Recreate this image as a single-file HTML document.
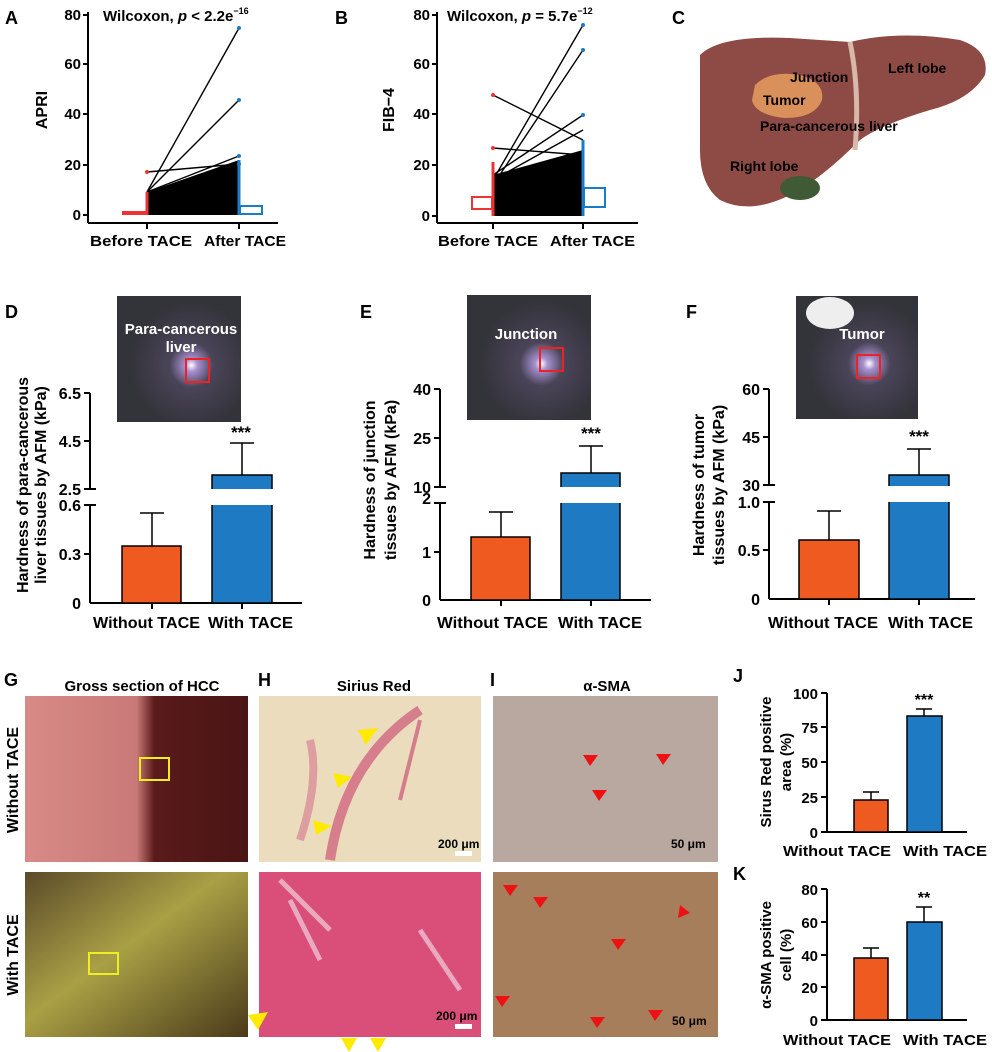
<!DOCTYPE html>
<html><head><meta charset="utf-8"><style>
body{margin:0;background:#fff}
svg{display:block;font-family:"Liberation Sans",Arial,sans-serif}
</style></head><body>
<svg width="992" height="1052" viewBox="0 0 992 1052" xmlns="http://www.w3.org/2000/svg">
<defs>
<linearGradient id="gw" x1="0" y1="0" x2="1" y2="0"><stop offset="0" stop-color="#d88a86"/><stop offset="0.5" stop-color="#c97a78"/><stop offset="0.58" stop-color="#5a1a1a"/><stop offset="1" stop-color="#4a1515"/></linearGradient>
<linearGradient id="gt" x1="0" y1="0" x2="1" y2="1"><stop offset="0" stop-color="#5b4a2a"/><stop offset="0.45" stop-color="#a9a045"/><stop offset="1" stop-color="#4a3a1a"/></linearGradient>
<radialGradient id="ph" cx="0.6" cy="0.55"><stop offset="0" stop-color="#fff"/><stop offset="0.1" stop-color="#a890d0"/><stop offset="0.35" stop-color="#4a4458"/><stop offset="1" stop-color="#33333a"/></radialGradient>
</defs>
<g font-size="18" font-weight="bold">
<text x="5" y="24">A</text><text x="335" y="24">B</text><text x="672" y="24">C</text>
<text x="5" y="318">D</text><text x="360" y="318">E</text><text x="686" y="318">F</text>
<text x="4" y="686">G</text><text x="258" y="686">H</text><text x="490" y="686">I</text>
<text x="733" y="682">J</text><text x="733" y="880">K</text>
</g>
<!-- Panel A -->
<g font-size="15" font-weight="bold">
<line x1="88" y1="12" x2="88" y2="223" stroke="#000" stroke-width="2"/>
<line x1="88" y1="223" x2="278" y2="223" stroke="#000" stroke-width="2"/>
<g text-anchor="end"><text x="81" y="20">80</text><text x="81" y="69">60</text><text x="81" y="119">40</text><text x="81" y="170">20</text><text x="81" y="220">0</text></g>
<g stroke="#000" stroke-width="2"><line x1="83" y1="15" x2="88" y2="15"/><line x1="83" y1="64" x2="88" y2="64"/><line x1="83" y1="114" x2="88" y2="114"/><line x1="83" y1="165" x2="88" y2="165"/><line x1="83" y1="215" x2="88" y2="215"/><line x1="147" y1="223" x2="147" y2="229"/><line x1="239" y1="223" x2="239" y2="229"/></g>
<text x="47" y="110" transform="rotate(-90 47 110)" text-anchor="middle" font-size="16">APRI</text>
<text x="103" y="21" font-size="15">Wilcoxon, <tspan font-style="italic">p</tspan> &lt; 2.2e<tspan font-size="9" dy="-7">−16</tspan></text>
<text x="90" y="246" font-size="15" textLength="102" lengthAdjust="spacingAndGlyphs">Before TACE</text><text x="204" y="246" font-size="15" textLength="82" lengthAdjust="spacingAndGlyphs">After TACE</text>
<g stroke="#000" stroke-width="1.4">
<line x1="147" y1="192" x2="239" y2="28"/><line x1="147" y1="192" x2="239" y2="100"/><line x1="147" y1="172" x2="239" y2="164"/>
<line x1="147" y1="192" x2="239" y2="156"/>
</g>
<polygon points="147,192 239,160 239,215 147,215" fill="#000"/>
<rect x="122" y="211" width="25" height="4" fill="#e33"/><line x1="147" y1="192" x2="147" y2="215" stroke="#e33" stroke-width="3"/><circle cx="147" cy="172" r="2" fill="#e33"/>
<line x1="239" y1="160" x2="239" y2="215" stroke="#1a7bc8" stroke-width="3"/><g fill="#1a7bc8"><circle cx="239" cy="28" r="2"/><circle cx="239" cy="100" r="2"/><circle cx="239" cy="156" r="2"/><circle cx="239" cy="164" r="2"/></g>
<rect x="240" y="206" width="22" height="8" fill="none" stroke="#1a7bc8" stroke-width="2"/>
</g>
<!-- Panel B -->
<g font-size="15" font-weight="bold">
<line x1="437" y1="12" x2="437" y2="223" stroke="#000" stroke-width="2"/>
<line x1="437" y1="223" x2="638" y2="223" stroke="#000" stroke-width="2"/>
<g text-anchor="end"><text x="430" y="20">80</text><text x="430" y="69">60</text><text x="430" y="119">40</text><text x="430" y="170">20</text><text x="430" y="221">0</text></g>
<g stroke="#000" stroke-width="2"><line x1="432" y1="15" x2="437" y2="15"/><line x1="432" y1="64" x2="437" y2="64"/><line x1="432" y1="114" x2="437" y2="114"/><line x1="432" y1="165" x2="437" y2="165"/><line x1="432" y1="216" x2="437" y2="216"/><line x1="493" y1="223" x2="493" y2="229"/><line x1="583" y1="223" x2="583" y2="229"/></g>
<text x="394" y="110" transform="rotate(-90 394 110)" text-anchor="middle" font-size="16">FIB−4</text>
<text x="447" y="21" font-size="15">Wilcoxon, <tspan font-style="italic">p</tspan> = 5.7e<tspan font-size="9" dy="-7">−12</tspan></text>
<text x="438" y="246" font-size="15" textLength="100" lengthAdjust="spacingAndGlyphs">Before TACE</text><text x="550" y="246" font-size="15" textLength="85" lengthAdjust="spacingAndGlyphs">After TACE</text>
<g stroke="#000" stroke-width="1.4">
<line x1="493" y1="95" x2="583" y2="140"/><line x1="493" y1="180" x2="583" y2="25"/><line x1="493" y1="185" x2="583" y2="50"/><line x1="493" y1="148" x2="583" y2="155"/><line x1="493" y1="175" x2="583" y2="115"/><line x1="493" y1="180" x2="583" y2="130"/>
</g>
<polygon points="493,175 583,150 583,216 493,216" fill="#000"/>
<rect x="472" y="197" width="20" height="12" fill="none" stroke="#e33" stroke-width="2"/><line x1="493" y1="162" x2="493" y2="216" stroke="#e33" stroke-width="3"/><circle cx="493" cy="95" r="2" fill="#e33"/><circle cx="493" cy="148" r="2" fill="#e33"/>
<line x1="583" y1="140" x2="583" y2="216" stroke="#1a7bc8" stroke-width="3"/><g fill="#1a7bc8"><circle cx="583" cy="25" r="2"/><circle cx="583" cy="50" r="2"/><circle cx="583" cy="115" r="2"/></g>
<rect x="584" y="188" width="21" height="19" fill="none" stroke="#1a7bc8" stroke-width="2"/>
</g>
<!-- Panel C liver -->
<g>
<path d="M700,55 Q720,35 790,38 L850,42 Q900,30 960,40 Q990,50 985,75 Q970,100 930,110 Q880,125 860,140 Q820,180 790,195 Q750,215 720,200 Q700,185 700,150 Z" fill="#8e4a45"/>
<ellipse cx="800" cy="188" rx="20" ry="12" fill="#3f5a35"/>
<path d="M850,42 Q860,90 855,150" stroke="#d8b8a8" stroke-width="5" fill="none"/>
<path d="M755,85 Q770,70 800,75 Q825,82 822,100 Q815,118 785,118 Q755,115 752,100 Z" fill="#d9905a"/>
<g font-size="14" font-weight="bold"><text x="790" y="82">Junction</text><text x="888" y="73">Left lobe</text><text x="763" y="105">Tumor</text><text x="760" y="131">Para-cancerous liver</text><text x="730" y="171">Right lobe</text></g>
</g>
<!-- Panel D -->
<g font-size="16" font-weight="bold">
<rect x="117" y="296" width="124" height="126" fill="url(#ph)"/><text x="181" y="334" fill="#fff" text-anchor="middle" font-size="15">Para-cancerous</text><text x="181" y="352" fill="#fff" text-anchor="middle" font-size="15">liver</text>
<rect x="186" y="359" width="23" height="23" fill="none" stroke="#e22" stroke-width="2"/>
<line x1="90" y1="393" x2="90" y2="489" stroke="#000" stroke-width="2"/><line x1="90" y1="505" x2="90" y2="603" stroke="#000" stroke-width="2"/>
<line x1="90" y1="603" x2="302" y2="603" stroke="#000" stroke-width="2"/>
<g stroke="#000" stroke-width="2"><line x1="84" y1="393" x2="90" y2="393"/><line x1="84" y1="441" x2="90" y2="441"/><line x1="84" y1="489" x2="96" y2="489"/><line x1="84" y1="505" x2="96" y2="505"/><line x1="84" y1="554" x2="90" y2="554"/><line x1="152" y1="603" x2="152" y2="609"/><line x1="242" y1="603" x2="242" y2="609"/></g>
<g text-anchor="end"><text x="81" y="399">6.5</text><text x="81" y="447">4.5</text><text x="81" y="495">2.5</text><text x="81" y="511">0.6</text><text x="81" y="560">0.3</text><text x="81" y="609">0</text></g>
<rect x="122" y="546" width="59" height="57" fill="#ee5a1f" stroke="#000" stroke-width="1.5"/><line x1="152" y1="546" x2="152" y2="513" stroke="#000" stroke-width="1.5"/><line x1="140" y1="513" x2="164" y2="513" stroke="#000" stroke-width="1.5"/>
<rect x="212" y="475" width="60" height="128" fill="#1f7ac4" stroke="#000" stroke-width="1.5"/><rect x="211" y="489" width="62" height="16" fill="#fff"/>
<line x1="242" y1="475" x2="242" y2="443" stroke="#000" stroke-width="1.5"/><line x1="230" y1="443" x2="254" y2="443" stroke="#000" stroke-width="1.5"/>
<text x="241" y="438" text-anchor="middle" font-size="17">***</text>
<text x="28" y="485" transform="rotate(-90 28 485)" text-anchor="middle" font-size="16">Hardness of para-cancerous</text>
<text x="46" y="485" transform="rotate(-90 46 485)" text-anchor="middle" font-size="16">liver tissues by AFM (kPa)</text>
<text x="93" y="628" font-size="16" textLength="107" lengthAdjust="spacingAndGlyphs">Without TACE</text><text x="208" y="628" font-size="16" textLength="85" lengthAdjust="spacingAndGlyphs">With TACE</text>
</g>
<!-- Panel E -->
<g font-size="16" font-weight="bold">
<rect x="467" y="295" width="124" height="125" fill="url(#ph)"/><text x="526" y="339" fill="#fff" text-anchor="middle" font-size="15">Junction</text>
<rect x="540" y="348" width="23" height="23" fill="none" stroke="#e22" stroke-width="2"/>
<line x1="440" y1="389" x2="440" y2="487" stroke="#000" stroke-width="2"/><line x1="440" y1="503" x2="440" y2="600" stroke="#000" stroke-width="2"/>
<line x1="440" y1="600" x2="651" y2="600" stroke="#000" stroke-width="2"/>
<g stroke="#000" stroke-width="2"><line x1="434" y1="389" x2="440" y2="389"/><line x1="434" y1="438" x2="440" y2="438"/><line x1="434" y1="487" x2="446" y2="487"/><line x1="434" y1="503" x2="446" y2="503"/><line x1="434" y1="552" x2="440" y2="552"/><line x1="501" y1="600" x2="501" y2="606"/><line x1="591" y1="600" x2="591" y2="606"/></g>
<g text-anchor="end"><text x="431" y="395">40</text><text x="431" y="444">25</text><text x="431" y="493">10</text><text x="431" y="504">2</text><text x="431" y="558">1</text><text x="431" y="606">0</text></g>
<rect x="471" y="537" width="59" height="63" fill="#ee5a1f" stroke="#000" stroke-width="1.5"/><line x1="501" y1="537" x2="501" y2="512" stroke="#000" stroke-width="1.5"/><line x1="489" y1="512" x2="513" y2="512" stroke="#000" stroke-width="1.5"/>
<rect x="561" y="473" width="59" height="127" fill="#1f7ac4" stroke="#000" stroke-width="1.5"/><rect x="560" y="487" width="61" height="16" fill="#fff"/>
<line x1="591" y1="473" x2="591" y2="446" stroke="#000" stroke-width="1.5"/><line x1="579" y1="446" x2="603" y2="446" stroke="#000" stroke-width="1.5"/>
<text x="591" y="439" text-anchor="middle" font-size="17">***</text>
<text x="375" y="480" transform="rotate(-90 375 480)" text-anchor="middle" font-size="16">Hardness of junction</text>
<text x="396" y="480" transform="rotate(-90 396 480)" text-anchor="middle" font-size="16">tissues by AFM (kPa)</text>
<text x="437" y="628" font-size="16" textLength="111" lengthAdjust="spacingAndGlyphs">Without TACE</text><text x="558" y="628" font-size="16" textLength="84" lengthAdjust="spacingAndGlyphs">With TACE</text>
</g>
<!-- Panel F -->
<g font-size="16" font-weight="bold">
<rect x="796" y="296" width="122" height="123" fill="url(#ph)"/><ellipse cx="830" cy="313" rx="24" ry="16" fill="#eee"/><text x="862" y="339" fill="#fff" text-anchor="middle" font-size="15">Tumor</text>
<rect x="857" y="355" width="23" height="23" fill="none" stroke="#e22" stroke-width="2"/>
<line x1="769" y1="389" x2="769" y2="485" stroke="#000" stroke-width="2"/><line x1="769" y1="502" x2="769" y2="599" stroke="#000" stroke-width="2"/>
<line x1="769" y1="599" x2="975" y2="599" stroke="#000" stroke-width="2"/>
<g stroke="#000" stroke-width="2"><line x1="763" y1="389" x2="769" y2="389"/><line x1="763" y1="437" x2="769" y2="437"/><line x1="763" y1="485" x2="775" y2="485"/><line x1="763" y1="502" x2="775" y2="502"/><line x1="763" y1="550" x2="769" y2="550"/><line x1="829" y1="599" x2="829" y2="605"/><line x1="919" y1="599" x2="919" y2="605"/></g>
<g text-anchor="end"><text x="760" y="395">60</text><text x="760" y="443">45</text><text x="760" y="491">30</text><text x="760" y="508">1.0</text><text x="760" y="556">0.5</text><text x="760" y="605">0</text></g>
<rect x="799" y="540" width="60" height="59" fill="#ee5a1f" stroke="#000" stroke-width="1.5"/><line x1="829" y1="540" x2="829" y2="511" stroke="#000" stroke-width="1.5"/><line x1="817" y1="511" x2="841" y2="511" stroke="#000" stroke-width="1.5"/>
<rect x="889" y="475" width="60" height="124" fill="#1f7ac4" stroke="#000" stroke-width="1.5"/><rect x="888" y="486" width="62" height="16" fill="#fff"/>
<line x1="919" y1="475" x2="919" y2="449" stroke="#000" stroke-width="1.5"/><line x1="907" y1="449" x2="931" y2="449" stroke="#000" stroke-width="1.5"/>
<text x="919" y="442" text-anchor="middle" font-size="17">***</text>
<text x="704" y="485" transform="rotate(-90 704 485)" text-anchor="middle" font-size="16">Hardness of tumor</text>
<text x="724" y="485" transform="rotate(-90 724 485)" text-anchor="middle" font-size="16">tissues by AFM (kPa)</text>
<text x="768" y="628" font-size="16" textLength="110" lengthAdjust="spacingAndGlyphs">Without TACE</text><text x="888" y="628" font-size="16" textLength="85" lengthAdjust="spacingAndGlyphs">With TACE</text>
</g>
<!-- G H I photos -->
<g font-size="15" font-weight="bold">
<text x="142" y="691" text-anchor="middle">Gross section of HCC</text><text x="374" y="691" text-anchor="middle">Sirius Red</text><text x="607" y="691" text-anchor="middle">α-SMA</text>
<rect x="25" y="696" width="223" height="166" fill="url(#gw)"/><rect x="25" y="872" width="223" height="165" fill="url(#gt)"/>
<rect x="140" y="758" width="29" height="22" fill="none" stroke="#ee2" stroke-width="2"/><rect x="89" y="953" width="29" height="21" fill="none" stroke="#ee2" stroke-width="2"/>
<text x="18" y="780" transform="rotate(-90 18 780)" text-anchor="middle" font-size="16">Without TACE</text>
<text x="18" y="955" transform="rotate(-90 18 955)" text-anchor="middle" font-size="16">With TACE</text>
<rect x="259" y="696" width="222" height="166" fill="#ebdcbe"/><path d="M330,860 Q345,760 420,710" stroke="#c8406a" stroke-width="10" fill="none" opacity="0.6"/><path d="M300,840 Q320,780 310,740" stroke="#d06080" stroke-width="8" fill="none" opacity="0.5"/><path d="M400,800 L420,720" stroke="#c8406a" stroke-width="4" opacity="0.6"/>
<rect x="259" y="872" width="222" height="165" fill="#d94f7a"/><path d="M280,880 L330,930 M290,900 L320,960 M420,930 L460,990" stroke="#f2d0dc" stroke-width="5" opacity="0.7"/>
<text x="438" y="848" font-size="12">200 μm</text><rect x="455" y="851" width="17" height="5" fill="#fff"/>
<text x="436" y="1020" font-size="12">200 μm</text><rect x="455" y="1024" width="17" height="5" fill="#fff"/>
<rect x="493" y="696" width="225" height="166" fill="#b8a8a0"/><rect x="493" y="872" width="225" height="165" fill="#a77e5c"/>
<text x="671" y="848" font-size="12">50 μm</text><text x="672" y="1025" font-size="12">50 μm</text>
<g fill="#ffea00"><polygon points="358,730 378,728 366,745"/><polygon points="333,773 352,777 338,788"/><polygon points="313,820 332,826 316,835"/><polygon points="248,1015 268,1012 258,1030"/><polygon points="341,1038 357,1038 349,1052"/><polygon points="370,1038 386,1038 378,1052"/></g>
<g fill="#e11"><polygon points="583,755 598,755 590,766"/><polygon points="592,790 607,790 599,801"/><polygon points="656,754 671,754 663,765"/><polygon points="503,885 518,885 510,896"/><polygon points="533,897 548,897 540,908"/><polygon points="680,905 690,913 678,918"/><polygon points="611,939 626,939 618,950"/><polygon points="495,996 510,996 502,1007"/><polygon points="590,1017 605,1017 597,1028"/><polygon points="648,1010 663,1010 655,1021"/></g>
</g>
<!-- J -->
<g font-size="15" font-weight="bold">
<line x1="827" y1="693" x2="827" y2="832" stroke="#000" stroke-width="2"/><line x1="827" y1="832" x2="967" y2="832" stroke="#000" stroke-width="2"/>
<g stroke="#000" stroke-width="2"><line x1="821" y1="693" x2="827" y2="693"/><line x1="821" y1="727" x2="827" y2="727"/><line x1="821" y1="762" x2="827" y2="762"/><line x1="821" y1="797" x2="827" y2="797"/><line x1="821" y1="832" x2="827" y2="832"/></g>
<g text-anchor="end"><text x="818" y="699">100</text><text x="818" y="733">75</text><text x="818" y="768">50</text><text x="818" y="803">25</text><text x="818" y="838">0</text></g>
<rect x="854" y="800" width="34" height="32" fill="#ee5a1f" stroke="#000" stroke-width="1.5"/><line x1="871" y1="800" x2="871" y2="792" stroke="#000" stroke-width="1.5"/><line x1="863" y1="792" x2="879" y2="792" stroke="#000" stroke-width="1.5"/>
<rect x="907" y="716" width="35" height="116" fill="#1f7ac4" stroke="#000" stroke-width="1.5"/><line x1="924" y1="716" x2="924" y2="709" stroke="#000" stroke-width="1.5"/><line x1="916" y1="709" x2="932" y2="709" stroke="#000" stroke-width="1.5"/>
<text x="924" y="705" text-anchor="middle" font-size="16">***</text>
<text x="771" y="762" transform="rotate(-90 771 762)" text-anchor="middle" font-size="15">Sirus Red positive</text><text x="791" y="762" transform="rotate(-90 791 762)" text-anchor="middle" font-size="15">area (%)</text>
<text x="783" y="856" font-size="15" textLength="108" lengthAdjust="spacingAndGlyphs">Without TACE</text><text x="903" y="856" font-size="15" textLength="84" lengthAdjust="spacingAndGlyphs">With TACE</text>
</g>
<!-- K -->
<g font-size="15" font-weight="bold">
<line x1="827" y1="889" x2="827" y2="1020" stroke="#000" stroke-width="2"/><line x1="827" y1="1020" x2="967" y2="1020" stroke="#000" stroke-width="2"/>
<g stroke="#000" stroke-width="2"><line x1="821" y1="889" x2="827" y2="889"/><line x1="821" y1="922" x2="827" y2="922"/><line x1="821" y1="955" x2="827" y2="955"/><line x1="821" y1="987" x2="827" y2="987"/><line x1="821" y1="1020" x2="827" y2="1020"/></g>
<g text-anchor="end"><text x="818" y="895">80</text><text x="818" y="928">60</text><text x="818" y="961">40</text><text x="818" y="993">20</text><text x="818" y="1026">0</text></g>
<rect x="854" y="958" width="34" height="62" fill="#ee5a1f" stroke="#000" stroke-width="1.5"/><line x1="871" y1="958" x2="871" y2="948" stroke="#000" stroke-width="1.5"/><line x1="863" y1="948" x2="879" y2="948" stroke="#000" stroke-width="1.5"/>
<rect x="907" y="922" width="35" height="98" fill="#1f7ac4" stroke="#000" stroke-width="1.5"/><line x1="924" y1="922" x2="924" y2="907" stroke="#000" stroke-width="1.5"/><line x1="916" y1="907" x2="932" y2="907" stroke="#000" stroke-width="1.5"/>
<text x="924" y="903" text-anchor="middle" font-size="16">**</text>
<text x="771" y="955" transform="rotate(-90 771 955)" text-anchor="middle" font-size="15">α-SMA positive</text><text x="791" y="955" transform="rotate(-90 791 955)" text-anchor="middle" font-size="15">cell (%)</text>
<text x="783" y="1045" font-size="15" textLength="108" lengthAdjust="spacingAndGlyphs">Without TACE</text><text x="903" y="1045" font-size="15" textLength="84" lengthAdjust="spacingAndGlyphs">With TACE</text>
</g>
</svg>
</body></html>
